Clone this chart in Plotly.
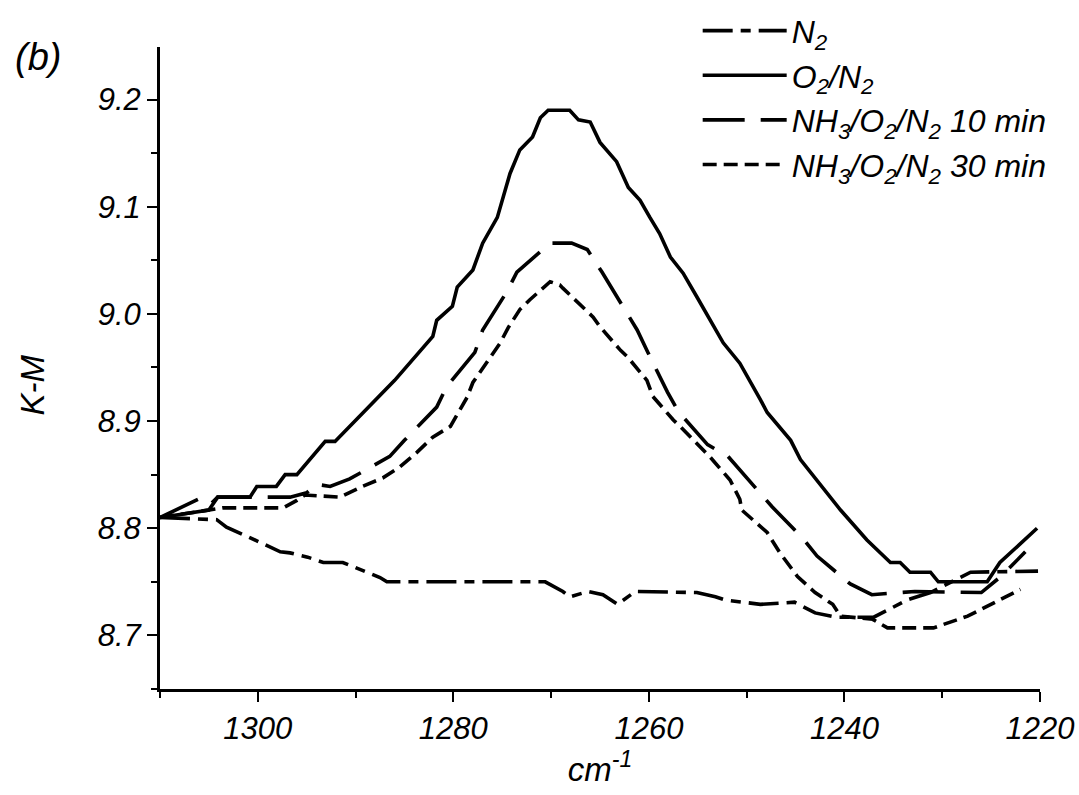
import plotly.graph_objects as go

# ---- data (wavenumber cm-1, K-M) ----
n2_x = [1310, 1304.2, 1303.2, 1302.2, 1299.8, 1297.7, 1296.7, 1294.9, 1293.3, 1291.3, 1290.5, 1289.6,
        1287.5, 1286.8, 1270.6, 1268.8, 1268.1, 1266.2, 1264.7, 1263.2, 1262.1, 1261.4, 1255.1, 1253.2,
        1252.2, 1248.6, 1245.1, 1243.0, 1240.9, 1237.0, 1233.6, 1231.2, 1227.1, 1220.2]
n2_y = [8.810, 8.808, 8.801, 8.797, 8.787, 8.778, 8.777, 8.773, 8.768, 8.768, 8.765, 8.761,
        8.754, 8.750, 8.750, 8.741, 8.736, 8.741, 8.738, 8.729, 8.736, 8.741, 8.740, 8.736,
        8.733, 8.729, 8.731, 8.721, 8.717, 8.717, 8.733, 8.740, 8.759, 8.760]

o2_x = [1310, 1306, 1305, 1304.1, 1300.8, 1300.1, 1298.1, 1297.2, 1296.0, 1293.1, 1292.1, 1286.0,
        1283.4, 1282.1, 1281.7, 1280.1, 1279.6, 1278.0, 1277.0, 1275.5, 1274.2, 1273.2, 1271.9, 1271.1,
        1270.3, 1268.1, 1267.2, 1266.0, 1265.0, 1263.3, 1262.1, 1260.9, 1259.9, 1258.9, 1257.8, 1256.5,
        1255.1, 1253.7, 1252.4, 1250.7, 1249.3, 1248.6, 1247.9, 1245.5, 1244.5, 1242.8, 1240.4, 1237.7,
        1235.3, 1234.3, 1233.3, 1231.2, 1230.4, 1225.4, 1224.1, 1220.3]
o2_y = [8.810, 8.815, 8.817, 8.829, 8.829, 8.839, 8.839, 8.850, 8.850, 8.881, 8.881, 8.938,
        8.966, 8.979, 8.994, 9.007, 9.025, 9.041, 9.066, 9.090, 9.131, 9.153, 9.165, 9.183,
        9.190, 9.190, 9.181, 9.179, 9.160, 9.142, 9.118, 9.106, 9.090, 9.075, 9.053, 9.038,
        9.016, 8.994, 8.973, 8.954, 8.932, 8.920, 8.908, 8.882, 8.864, 8.845, 8.817, 8.789,
        8.768, 8.768, 8.759, 8.759, 8.750, 8.750, 8.768, 8.800]

nh10_x = [1310, 1306.1, 1304.9, 1304.1, 1296.7, 1295.0, 1294.0, 1292.6, 1290.6, 1286.5, 1285.0, 1281.7,
          1280.7, 1277.8, 1277.0, 1274.5, 1273.5, 1270.1, 1267.9, 1266.3, 1264.8, 1263.5, 1261.2, 1260.1,
          1258.1, 1257.0, 1254.0, 1251.9, 1248.9, 1247.4, 1244.3, 1242.8, 1239.4, 1237.2, 1232.8, 1226.0,
          1224.0, 1221.5]
nh10_y = [8.810, 8.827, 8.822, 8.829, 8.829, 8.833, 8.841, 8.839, 8.846, 8.867, 8.882, 8.913,
          8.932, 8.964, 8.985, 9.021, 9.039, 9.066, 9.066, 9.060, 9.039, 9.020, 8.985, 8.964,
          8.927, 8.909, 8.878, 8.867, 8.836, 8.820, 8.791, 8.774, 8.748, 8.738, 8.741, 8.740,
          8.755, 8.778]

nh30_x = [1310, 1305.1, 1303.6, 1297.4, 1296.0, 1295.2, 1292.6, 1291.6, 1289.3, 1287.2, 1285.5, 1283.7,
          1282.1, 1280.3, 1278.6, 1278.0, 1275.2, 1274.4, 1273.2, 1272.2, 1270.1, 1269.1, 1268.8, 1265.7,
          1265.0, 1262.9, 1262.2, 1260.2, 1259.6, 1257.5, 1256.8, 1254.5, 1253.7, 1251.7, 1250.7, 1250.5,
          1247.9, 1246.6, 1244.8, 1243.0, 1241.2, 1240.4, 1237.1, 1235.6, 1230.9, 1227.4, 1222.0]
nh30_y = [8.810, 8.817, 8.819, 8.819, 8.826, 8.831, 8.829, 8.829, 8.839, 8.847, 8.857, 8.871,
          8.885, 8.895, 8.922, 8.936, 8.973, 8.987, 9.004, 9.013, 9.030, 9.027, 9.024, 8.997,
          8.988, 8.966, 8.960, 8.938, 8.923, 8.901, 8.895, 8.873, 8.866, 8.845, 8.827, 8.817,
          8.796, 8.777, 8.755, 8.740, 8.729, 8.718, 8.715, 8.707, 8.707, 8.718, 8.743]

names = ["N<sub>2</sub>", "O<sub>2</sub>/N<sub>2</sub>",
         "NH<sub>3</sub>/O<sub>2</sub>/N<sub>2</sub> 10 min",
         "NH<sub>3</sub>/O<sub>2</sub>/N<sub>2</sub> 30 min"]

x_ticks = [1300, 1280, 1260, 1240, 1220]
y_ticks = [8.7, 8.8, 8.9, 9.0, 9.1, 9.2]

FONT = "Liberation Sans, Arial, sans-serif"

fig = go.Figure()
series = [(n2_x, n2_y, "30px,8px,10px,8px"),
          (o2_x, o2_y, "solid"),
          (nh10_x, nh10_y, "42px,16px"),
          (nh30_x, nh30_y, "14px,7px")]
for (xs, ys, dash), nm in zip(series, names):
    fig.add_trace(go.Scatter(x=xs, y=ys, mode="lines", name=nm,
                             line=dict(color="black", width=3.6, dash=dash)))

fig.update_layout(
    width=1079, height=795,
    paper_bgcolor="white", plot_bgcolor="white",
    margin=dict(l=160, r=39, t=47, b=106, autoexpand=False),
    font=dict(family=FONT, color="black", size=30, style="italic"),
    showlegend=True,
    legend=dict(x=0.611, y=1.068, xanchor="left", yanchor="top",
                bgcolor="rgba(0,0,0,0)", borderwidth=0,
                font=dict(family=FONT, size=32, style="italic", color="black"),
                itemwidth=84, tracegroupgap=0),
    annotations=[
        dict(text="(b)", xref="paper", yref="paper", x=-0.139, y=0.985,
             xanchor="center", yanchor="middle", showarrow=False,
             font=dict(family=FONT, size=38, style="italic", color="black")),
        dict(text="K-M", xref="paper", yref="paper", x=-0.145, y=0.4735,
             xanchor="center", yanchor="middle", showarrow=False, textangle=-90,
             font=dict(family=FONT, size=33, style="italic", color="black")),
    ],
)

fig.update_xaxes(range=[1310, 1220], tickvals=x_ticks, ticktext=[str(v) for v in x_ticks],
                 showgrid=False, zeroline=False, showline=True, linecolor="black", linewidth=3,
                 ticks="outside", ticklen=10, tickwidth=2, tickcolor="black",
                 minor=dict(dtick=10, tick0=1310, ticks="outside", ticklen=6, tickwidth=2, tickcolor="black"),
                 tickfont=dict(family=FONT, size=31, style="italic"),
                 title=dict(text="cm<sup>-1</sup>", font=dict(family=FONT, size=33, style="italic"), standoff=8))
fig.update_yaxes(range=[8.65, 9.249], tickvals=y_ticks, ticktext=["%.1f" % v for v in y_ticks],
                 showgrid=False, zeroline=False, showline=True, linecolor="black", linewidth=3,
                 ticks="outside", ticklen=10, tickwidth=2, tickcolor="black",
                 minor=dict(dtick=0.05, tick0=8.65, ticks="outside", ticklen=6, tickwidth=2, tickcolor="black"),
                 tickfont=dict(family=FONT, size=31, style="italic"))

fig.write_html("out.html")
